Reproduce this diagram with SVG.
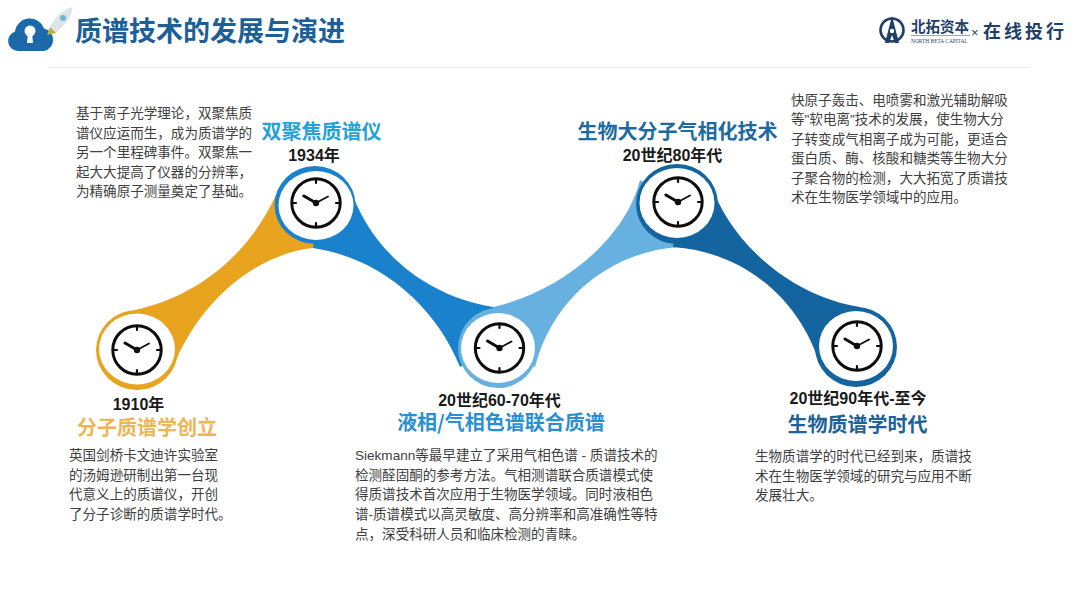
<svg xmlns="http://www.w3.org/2000/svg" width="1080" height="608" viewBox="0 0 1080 608">
<style>
text{font-family:"Liberation Sans","Noto Sans CJK SC",sans-serif}
.b{font-size:13.55px;fill:#404040}
.h{font-size:20px;font-weight:700;text-anchor:middle;font-family:"Noto Sans CJK SC",sans-serif}
.d{font-size:16px;font-weight:700;fill:#1a1a1a;text-anchor:middle}
.w{fill:#fff}
.o{fill:#E8A31F}.u{fill:#1A82CC}.l{fill:#66B1E0}.k{fill:#14649F}
.cf{fill:none;stroke:#0d0d0d;stroke-width:3}
.ch{fill:none;stroke:#0d0d0d;stroke-linecap:round}
</style>
<defs>
<g id="clock">
<circle class="cf" r="24.2"/>
<path class="ch" stroke-width="2.2" d="M0-24V-20M0 24V20M-24 0H-20M24 0H20"/>
<path class="ch" stroke-width="3" d="M0 0L-12-7"/>
<path class="ch" stroke-width="1.8" d="M0 0L12-6.5"/>
<circle r="3.2" fill="#0d0d0d"/>
</g>
</defs>
<rect width="1080" height="608" fill="#fff"/>
<g id="header">
<path d="M18 51A10 10 0 0 1 15 31.500A15 15 0 0 1 44 28.500A11.500 11.500 0 0 1 44 51Z" fill="#1B69A8"/>
<circle class="w" cx="30" cy="31" r="5.5"/>
<path class="w" d="M28 33H32L33 43H27Z"/>
<path d="M50 27C54 18 62 10 73 7C71 18 64 26 56 33Z" fill="#dfe4e6"/>
<circle cx="63" cy="18" r="3" fill="#6db6da"/>
<path d="M47 35L50 27L56 33Z" fill="#b7b23a"/>
<text x="75" y="41" font-size="27" font-weight="700" fill="#1D6098" style="font-family:'Noto Sans CJK SC',sans-serif">质谱技术的发展与演进</text>
<line x1="48" y1="67.5" x2="1030" y2="67.5" stroke="#e9e9e9"/>
</g>
<g id="logo">
<circle cx="892" cy="30" r="11.5" fill="none" stroke="#1F3F68" stroke-width="2.6"/>
<path d="M892 16L899 43H895L892 35L889 43H885Z" fill="#1F3F68"/>
<circle cx="892" cy="31" r="2.2" fill="#fff"/>
<text x="911" y="32" font-size="14.5" font-weight="700" fill="#1F3F68" style="font-family:'Noto Sans CJK SC',sans-serif">北拓资本</text>
<line x1="911" y1="35.500" x2="970" y2="35.500" stroke="#9aa5b1"/>
<text x="911" y="43" font-size="5.400" fill="#1F3F68" style="font-family:'Liberation Serif',serif">NORTH BETA CAPITAL</text>
<text x="971" y="37" font-size="13" fill="#1F3F68">×</text>
<text x="983" y="38" font-size="18" font-weight="700" letter-spacing="3" fill="#1F3F68" style="font-family:'Noto Sans CJK SC',sans-serif">在线投行</text>
</g>
<g id="connectors">
<path class="o" d="M135 310C190 298 245 262 276 195L316 203L313 248C265 253 205 290 173 367L137 350Z"/>
<path class="u" d="M350 187C368 245 420 295 493 307L499 348L460 367C435 305 380 258 313 248L316 203Z"/>
<path class="l" d="M493 307C560 292 625 240 640 180L678 203L680 247C620 250 555 290 535 367L499 348Z"/>
<path class="k" d="M710 180C725 235 785 295 860 307L857 346L820 365C800 300 745 252 673 247L678 203Z"/>
</g>
<g id="node-1">
<ellipse class="o" cx="137" cy="350" rx="41" ry="40"/>
<ellipse class="w" cx="137" cy="349" rx="38" ry="35.500"/>
<use href="#clock" x="137" y="350"/>
<text class="d" x="138.500" y="409.500">1910年</text>
<text class="h" x="147" y="434.500" fill="#EDB654">分子质谱学创立</text>
<text class="b"><tspan x="69" y="460">英国剑桥卡文迪许实验室</tspan><tspan x="69" y="479.500">的汤姆逊研制出第一台现</tspan><tspan x="69" y="499">代意义上的质谱仪，开创</tspan><tspan x="69" y="518.500">了分子诊断的质谱学时代。</tspan></text>
</g>
<g id="node-2">
<ellipse class="u" cx="315" cy="205" rx="40.500" ry="39"/>
<ellipse class="w" cx="316" cy="205.500" rx="37.500" ry="34.500"/>
<use href="#clock" x="316" y="203"/>
<text class="d" x="314" y="161">1934年</text>
<text class="h" x="321.500" y="139" fill="#1FA3D8">双聚焦质谱仪</text>
<text class="b"><tspan x="76" y="118">基于离子光学理论，双聚焦质</tspan><tspan x="76" y="137.600">谱仪应运而生，成为质谱学的</tspan><tspan x="76" y="157.200">另一个里程碑事件。双聚焦一</tspan><tspan x="76" y="176.800">起大大提高了仪器的分辨率，</tspan><tspan x="76" y="196.400">为精确原子测量奠定了基础。</tspan></text>
</g>
<g id="node-3">
<ellipse class="l" cx="498" cy="348" rx="40" ry="40"/>
<ellipse class="w" cx="498" cy="348" rx="37" ry="35"/>
<use href="#clock" x="499.500" y="348"/>
<text class="d" x="499.500" y="406">20世纪60-70年代</text>
<text class="h" x="501" y="430" fill="#2A8FD0">液相/气相色谱联合质谱</text>
<text class="b"><tspan x="355" y="460">Siekmann等最早建立了采用气相色谱 - 质谱技术的</tspan><tspan x="355" y="479.500">检测醛固酮的参考方法。气相测谱联合质谱模式使</tspan><tspan x="355" y="499">得质谱技术首次应用于生物医学领域。同时液相色</tspan><tspan x="355" y="519">谱-质谱模式以高灵敏度、高分辨率和高准确性等特</tspan><tspan x="355" y="539">点，深受科研人员和临床检测的青睐。</tspan></text>
</g>
<g id="node-4">
<ellipse class="k" cx="677" cy="204" rx="41" ry="40"/>
<ellipse class="w" cx="677" cy="203" rx="37.500" ry="35"/>
<use href="#clock" x="678" y="202"/>
<text class="d" x="672.500" y="161">20世纪80年代</text>
<text class="h" x="677.500" y="139" fill="#1D6AA3">生物大分子气相化技术</text>
<text class="b"><tspan x="791" y="105">快原子轰击、电喷雾和激光辅助解吸</tspan><tspan x="791" y="124.400">等"软电离"技术的发展，使生物大分</tspan><tspan x="791" y="143.800">子转变成气相离子成为可能，更适合</tspan><tspan x="791" y="163.200">蛋白质、酶、核酸和糖类等生物大分</tspan><tspan x="791" y="182.600">子聚合物的检测，大大拓宽了质谱技</tspan><tspan x="791" y="202">术在生物医学领域中的应用。</tspan></text>
</g>
<g id="node-5">
<ellipse class="k" cx="856" cy="347" rx="41" ry="40"/>
<ellipse class="w" cx="856" cy="346" rx="37" ry="35"/>
<use href="#clock" x="857" y="346"/>
<text class="d" x="858" y="404">20世纪90年代-至今</text>
<text class="h" x="857.500" y="432" fill="#1D6298">生物质谱学时代</text>
<text class="b"><tspan x="755" y="461">生物质谱学的时代已经到来，质谱技</tspan><tspan x="755" y="480.500">术在生物医学领域的研究与应用不断</tspan><tspan x="755" y="500">发展壮大。</tspan></text>
</g>
</svg>
